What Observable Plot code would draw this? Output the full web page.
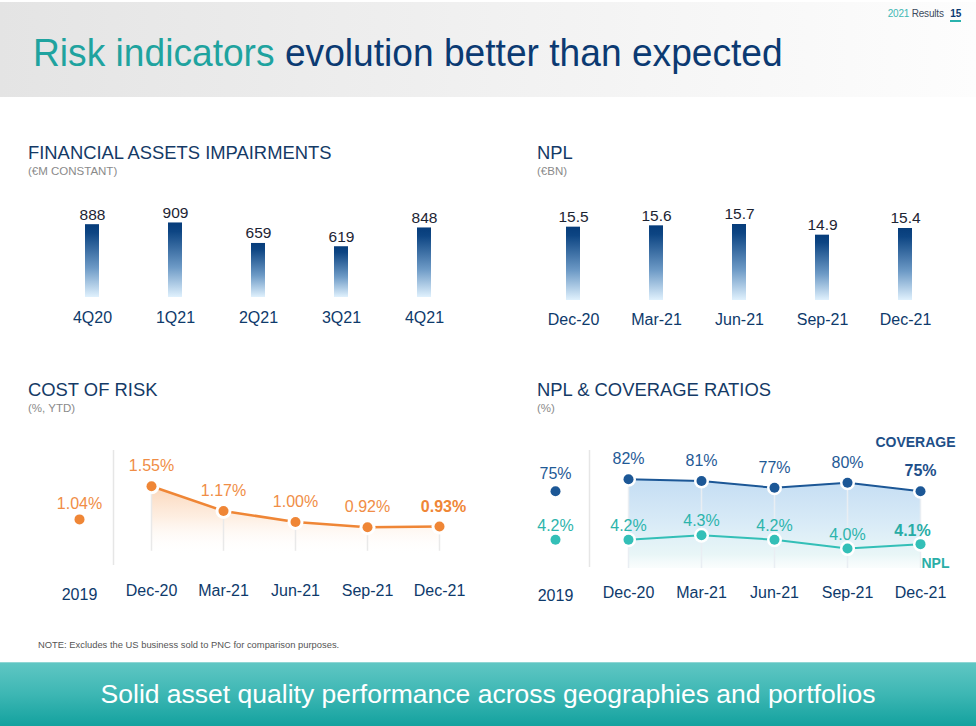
<!DOCTYPE html>
<html>
<head>
<meta charset="utf-8">
<script src="https://cdn.jsdelivr.net/npm/d3@7"></script>
<script src="https://cdn.jsdelivr.net/npm/@observablehq/plot@0.6"></script>
<style>
html, body { margin: 0; padding: 0; background: #fff; }
#slide { position: relative; width: 976px; height: 726px; overflow: hidden; font-family: "Liberation Sans", Arial, sans-serif; }
.abs { position: absolute; white-space: nowrap; line-height: 1; }
#header { position: absolute; left: 0; top: 2px; width: 976px; height: 95px; background: linear-gradient(90deg, #e4e4e4 0%, #ededed 35%, #f6f6f6 70%, #fdfdfd 100%); }
#title { left: 33px; top: 34px; font-size: 38.5px; transform: scaleX(0.965); transform-origin: left center; }
#title .teal { color: #1fa39f; }
#title .navy { color: #0b3a72; }
#pageinfo { right: 15px; top: 9px; font-size: 10px; color: #3b4a5e; letter-spacing: -0.2px; }
#pageinfo .y { color: #3fb8b4; }
#pageinfo .n { color: #0b3a72; font-weight: bold; border-bottom: 2px solid #2ab3ae; padding-bottom: 1px; margin-left: 4px; }
.sec { font-size: 18.4px; color: #143a66; }
.sub { font-size: 11.5px; color: #8a8a8a; }
#note { left: 38px; top: 640px; font-size: 9.4px; color: #555; }
#footer { position: absolute; left: 0; top: 662px; width: 976px; height: 64px; background: linear-gradient(180deg, #5fc6c3 0%, #3cb6b3 50%, #12a19e 100%); border-top: 1px solid #8fd6d4; }
#footer div { position: absolute; left: 0; width: 976px; top: 18px; text-align: center; color: #fff; font-size: 26.5px; line-height: 1; }
.chart { position: absolute; }
.chart svg { position: absolute; left: 0; top: 0; overflow: visible; max-width: none; }
</style>
</head>
<body>
<div id="slide">
  <div id="header"></div>
  <div class="abs" id="title"><span class="teal">Risk indicators</span><span class="navy"> evolution better than expected</span></div>
  <div class="abs" id="pageinfo"><span class="y">2021</span> Results <span class="n">15</span></div>

  <div class="abs sec" style="left:28px;top:144px;">FINANCIAL ASSETS IMPAIRMENTS</div>
  <div class="abs sub" style="left:28px;top:166px;">(€M CONSTANT)</div>
  <div class="abs sec" style="left:537px;top:144px;">NPL</div>
  <div class="abs sub" style="left:537px;top:166px;">(€BN)</div>
  <div class="abs sec" style="left:28px;top:381px;">COST OF RISK</div>
  <div class="abs sub" style="left:28px;top:403px;">(%, YTD)</div>
  <div class="abs sec" style="left:537px;top:381px;">NPL &amp; COVERAGE RATIOS</div>
  <div class="abs sub" style="left:537px;top:403px;">(%)</div>

  <div class="chart" id="c1" style="left:20px;top:190px;width:470px;height:145px;"></div>
  <div class="chart" id="c2" style="left:500px;top:190px;width:476px;height:145px;"></div>
  <div class="chart" id="c3" style="left:20px;top:430px;width:470px;height:180px;"></div>
  <div class="chart" id="c4" style="left:500px;top:430px;width:476px;height:180px;"></div>

  <div class="abs" id="note">NOTE: Excludes the US business sold to PNC for comparison purposes.</div>
  <div id="footer"><div>Solid asset quality performance across geographies and portfolios</div></div>
</div>
<script>
// ---- Data ----
const impCategories = ["4Q20", "1Q21", "2Q21", "3Q21", "4Q21"];
const impValues = [888, 909, 659, 619, 848];

const nplCategories = ["Dec-20", "Mar-21", "Jun-21", "Sep-21", "Dec-21"];
const nplValues = [15.5, 15.6, 15.7, 14.9, 15.4];

const periods = ["2019", "Dec-20", "Mar-21", "Jun-21", "Sep-21", "Dec-21"];
const costOfRisk = [1.04, 1.55, 1.17, 1.00, 0.92, 0.93];
const coverageRatio = [75, 82, 81, 77, 80, 75];
const nplRatio = [4.2, 4.2, 4.3, 4.2, 4.0, 4.1];

// ---- Styles ----
const FONT = '"Liberation Sans", Arial, sans-serif';
const NAVY = "#0e3a6b";
const ORANGE = "#ef8636";
const ORANGE_TXT = "#f08d46";
const COV = "#1c5796";
const COV_TXT = "#1f5a96";
const TEAL = "#33bfb7";
const TEAL_TXT = "#2cb4ac";
const baseStyle = {fontFamily: FONT, background: "transparent", overflow: "visible"};

function linearGrad(id, stops) {
  return () => {
    const defs = d3.create("svg:defs");
    const g = defs.append("linearGradient").attr("id", id)
      .attr("x1", 0).attr("y1", 0).attr("x2", 0).attr("y2", 1);
    for (const [offset, color, opacity] of stops) {
      g.append("stop").attr("offset", offset).attr("stop-color", color).attr("stop-opacity", opacity);
    }
    return defs.node();
  };
}
const barStops = [[0, "#063c7a", 1], [0.12, "#0d4583", 1], [0.6, "#6d9ac6", 1], [1, "#e0f1fd", 1]];
const first = 0;
const last = periods.length - 1;

// ---- Chart 1: Financial assets impairments ----
const impData = impCategories.map((c, i) => ({cat: c, value: impValues[i]}));
document.getElementById("c1").append(Plot.plot({
  width: 470, height: 145,
  marginLeft: 63, marginRight: 58, marginTop: 25, marginBottom: 38,
  style: baseStyle,
  x: {domain: impCategories, paddingInner: 0.833, paddingOuter: 0, axis: null},
  y: {domain: [0, 1000], axis: null},
  marks: [
    linearGrad("gradImp", barStops),
    Plot.barY(impData, {x: "cat", y: "value", fill: "url(#gradImp)"}),
    Plot.text(impData, {x: "cat", y: "value", text: d => String(d.value), dy: -10, fontSize: 15.5, fill: "#1d2433"}),
    Plot.text(impData, {x: "cat", text: "cat", frameAnchor: "bottom", lineAnchor: "middle", dy: 20, fontSize: 16, fill: NAVY})
  ]
}));

// ---- Chart 2: NPL (€bn) ----
const nplData = nplCategories.map((c, i) => ({cat: c, value: nplValues[i]}));
document.getElementById("c2").append(Plot.plot({
  width: 476, height: 145,
  marginLeft: 64, marginRight: 62, marginTop: 30, marginBottom: 35,
  style: baseStyle,
  x: {domain: nplCategories, paddingInner: 0.833, paddingOuter: 0, axis: null},
  y: {domain: [10, 16], axis: null},
  marks: [
    linearGrad("gradNpl", barStops),
    Plot.barY(nplData, {x: "cat", y1: 10, y2: "value", fill: "url(#gradNpl)"}),
    Plot.text(nplData, {x: "cat", y: "value", text: d => d3.format(".1f")(d.value), dy: -10, fontSize: 15.5, fill: "#1d2433"}),
    Plot.text(nplData, {x: "cat", text: "cat", frameAnchor: "bottom", lineAnchor: "middle", dy: 19, fontSize: 16, fill: NAVY})
  ]
}));

// ---- Chart 3: Cost of risk ----
const corData = periods.map((p, i) => ({period: p, value: costOfRisk[i]}));
const corSeries = corData.slice(1);
const pct2 = d => d3.format(".2f")(d.value) + "%";
document.getElementById("c3").append(Plot.plot({
  width: 470, height: 180,
  marginLeft: 58, marginRight: 51, marginTop: 46, marginBottom: 56,
  style: baseStyle,
  x: {type: "point", domain: periods, padding: 0, axis: null},
  y: {domain: [0.5, 1.7], axis: null},
  marks: [
    linearGrad("gradCor", [[0, "#f8c49a", 0.7], [0.45, "#fcdcc2", 0.5], [1, "#ffffff", 0]]),
    Plot.ruleX(["Dec-20"], {dx: -38, stroke: "#e6e6e6", strokeWidth: 1.5, insetTop: -26, insetBottom: -11}),
    Plot.areaY(corSeries, {x: "period", y1: 0.5, y2: "value", fill: "url(#gradCor)"}),
    Plot.ruleX(corSeries, {x: "period", y1: 0.55, y2: "value", stroke: "#e9e9e9", strokeWidth: 1.5}),
    Plot.line(corSeries, {x: "period", y: "value", stroke: ORANGE, strokeWidth: 2.5}),
    Plot.dot(corData, {x: "period", y: "value", r: 8, fill: "#ffffff"}),
    Plot.dot(corData, {x: "period", y: "value", r: 5, fill: ORANGE}),
    Plot.text(corData.filter((d, i) => i === first), {x: "period", y: "value", text: pct2, dy: -16, fontSize: 16, fill: ORANGE_TXT}),
    Plot.text(corData.filter((d, i) => i !== first && i !== last), {x: "period", y: "value", text: pct2, dy: -20, fontSize: 16, fill: ORANGE_TXT}),
    Plot.text(corData.filter((d, i) => i === last), {x: "period", y: "value", text: pct2, dy: -20, dx: 4, fontSize: 16, fontWeight: "bold", fill: ORANGE}),
    Plot.text(periods.slice(1), {x: d => d, text: d => d, frameAnchor: "bottom", lineAnchor: "middle", dy: 36, fontSize: 16, fill: NAVY}),
    Plot.text(periods.slice(0, 1), {x: d => d, text: d => d, frameAnchor: "bottom", lineAnchor: "middle", dy: 40, fontSize: 16, fill: NAVY})
  ]
}));

// ---- Chart 4: NPL & coverage ratios (two overlaid plots sharing x) ----
const covData = periods.map((p, i) => ({period: p, value: coverageRatio[i]}));
const nrData = periods.map((p, i) => ({period: p, value: nplRatio[i]}));
const common = {
  width: 476, height: 180,
  marginLeft: 53, marginRight: 54, marginBottom: 42,
  style: baseStyle
};
const xPoint = {type: "point", domain: periods, padding: 0, axis: null};
const pct1 = d => d3.format(".1f")(d.value) + "%";

document.getElementById("c4").append(Plot.plot({
  ...common, marginTop: 35,
  x: xPoint,
  y: {domain: [30, 90], axis: null},
  marks: [
    linearGrad("gradCov", [[0, "#c4ddf3", 1], [0.5, "#d9ebf7", 1], [0.85, "#e6f5f6", 0.9], [1, "#f2fafa", 0.4]]),
    Plot.ruleX(["Dec-20"], {dx: -39, stroke: "#e6e6e6", strokeWidth: 1.5, insetTop: -15, insetBottom: 1}),
    Plot.areaY(covData.slice(1), {x: "period", y1: 30, y2: "value", fill: "url(#gradCov)"}),
    Plot.ruleX(covData.slice(1), {x: "period", y1: 30, y2: "value", stroke: "#e9eef3", strokeWidth: 1.5}),
    Plot.line(covData.slice(1), {x: "period", y: "value", stroke: COV, strokeWidth: 2}),
    Plot.dot(covData, {x: "period", y: "value", r: 7.5, fill: "#ffffff"}),
    Plot.dot(covData, {x: "period", y: "value", r: 5, fill: COV}),
    Plot.text(covData.filter((d, i) => i === first), {x: "period", y: "value", text: d => d.value + "%", dy: -17, fontSize: 16, fill: COV_TXT}),
    Plot.text(covData.filter((d, i) => i !== first && i !== last), {x: "period", y: "value", text: d => d.value + "%", dy: -20, fontSize: 16, fill: COV_TXT}),
    Plot.text(covData.filter((d, i) => i === last), {x: "period", y: "value", text: d => d.value + "%", dy: -20, fontSize: 16, fontWeight: "bold", fill: "#1d4f8a"}),
    Plot.text(["COVERAGE"], {frameAnchor: "top-right", textAnchor: "end", lineAnchor: "middle", dx: 33, dy: -23, fontSize: 14, fontWeight: "bold", fill: "#1e4f88"}),
    Plot.text(periods.slice(1), {x: d => d, text: d => d, frameAnchor: "bottom", lineAnchor: "middle", dy: 24, fontSize: 16, fill: NAVY}),
    Plot.text(periods.slice(0, 1), {x: d => d, text: d => d, frameAnchor: "bottom", lineAnchor: "middle", dy: 27, fontSize: 16, fill: NAVY})
  ]
}));

document.getElementById("c4").append(Plot.plot({
  ...common, marginTop: 34,
  x: xPoint,
  y: {domain: [3.55, 5.9], axis: null},
  marks: [
    Plot.line(nrData.slice(1), {x: "period", y: "value", stroke: TEAL, strokeWidth: 2}),
    Plot.dot(nrData, {x: "period", y: "value", r: 7.5, fill: "#ffffff"}),
    Plot.dot(nrData, {x: "period", y: "value", r: 5, fill: TEAL}),
    Plot.text(nrData.filter((d, i) => i !== last), {x: "period", y: "value", text: pct1, dy: -14, fontSize: 16, fill: TEAL_TXT}),
    Plot.text(nrData.filter((d, i) => i === last), {x: "period", y: "value", text: pct1, dy: -13, dx: -8, fontSize: 16, fontWeight: "bold", fill: "#27aca5"}),
    Plot.text(["NPL"], {frameAnchor: "bottom-right", textAnchor: "end", lineAnchor: "middle", dx: 27, dy: -5, fontSize: 14, fontWeight: "bold", fill: "#2aaea7"})
  ]
}));
</script>
</body>
</html>
